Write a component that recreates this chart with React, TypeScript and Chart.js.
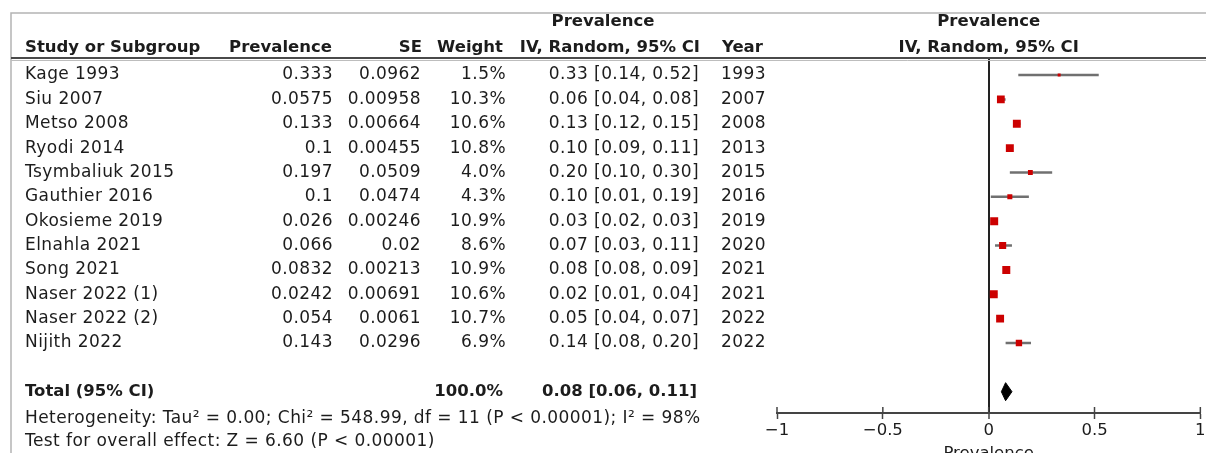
import React, { useEffect, useRef } from 'react';
import { Chart, registerables } from 'chart.js';

Chart.register(...registerables);

// ---------------- data ----------------
const studies = [
  'Kage 1993',
  'Siu 2007',
  'Metso 2008',
  'Ryodi 2014',
  'Tsymbaliuk 2015',
  'Gauthier 2016',
  'Okosieme 2019',
  'Elnahla 2021',
  'Song 2021',
  'Naser 2022 (1)',
  'Naser 2022 (2)',
  'Nijith 2022',
];
const prevalence = [0.333, 0.0575, 0.133, 0.1, 0.197, 0.1, 0.026, 0.066, 0.0832, 0.0242, 0.054, 0.143];
const standardErrors = [0.0962, 0.00958, 0.00664, 0.00455, 0.0509, 0.0474, 0.00246, 0.02, 0.00213, 0.00691, 0.0061, 0.0296];
const weights = [1.5, 10.3, 10.6, 10.8, 4.0, 4.3, 10.9, 8.6, 10.9, 10.6, 10.7, 6.9];
const estimates = [0.33, 0.06, 0.13, 0.1, 0.2, 0.1, 0.03, 0.07, 0.08, 0.02, 0.05, 0.14];
const ciLower = [0.14, 0.04, 0.12, 0.09, 0.1, 0.01, 0.02, 0.03, 0.08, 0.01, 0.04, 0.08];
const ciUpper = [0.52, 0.08, 0.15, 0.11, 0.3, 0.19, 0.03, 0.11, 0.09, 0.04, 0.07, 0.2];
const years = [1993, 2007, 2008, 2013, 2015, 2016, 2019, 2020, 2021, 2021, 2022, 2022];

const totalWeight = 100.0;
const totalEstimate = 0.08;
const totalLower = 0.06;
const totalUpper = 0.11;

const xTickValues = [-1, -0.5, 0, 0.5, 1];
const axisTitle = 'Prevalence';
const heterogeneityText = 'Heterogeneity: Tau\u00B2 = 0.00; Chi\u00B2 = 548.99, df = 11 (P < 0.00001); I\u00B2 = 98%';
const overallEffectText = 'Test for overall effect: Z = 6.60 (P < 0.00001)';

// ---------------- styling ----------------
const FONT_FAMILY = '"DejaVu Sans", sans-serif';
const BOLD_SIZE = 16.5;
const REGULAR_SIZE = 17;
const REGULAR_SPACING = '0.43px';
const TEXT_COLOR = '#1c1c1c';
const TOTAL_ROW = 13;
const W = 1206;
const H = 453;

const fmt2 = (v: number) => v.toFixed(2);
const ciText = (e: number, l: number, u: number) => `${fmt2(e)} [${fmt2(l)}, ${fmt2(u)}]`;
const markerSide = (w: number) => 8 * Math.sqrt(w / 10.9);

const tablePlugin = {
  id: 'forestTable',
  afterDraw(chart: any) {
    const ctx = chart.ctx as CanvasRenderingContext2D;
    const ys = chart.scales.y;
    const xs = chart.scales.x;
    ctx.save();

    // frame lines
    ctx.strokeStyle = '#b4b4b4';
    ctx.lineWidth = 1.5;
    ctx.beginPath();
    ctx.moveTo(11, H);
    ctx.lineTo(11, 13);
    ctx.lineTo(W, 13);
    ctx.stroke();

    // header rule (double)
    ctx.strokeStyle = '#4a4a4a';
    ctx.lineWidth = 2;
    ctx.beginPath();
    ctx.moveTo(11, 58);
    ctx.lineTo(W, 58);
    ctx.stroke();
    ctx.strokeStyle = '#bdbdbd';
    ctx.lineWidth = 1;
    ctx.beginPath();
    ctx.moveTo(11, 60.5);
    ctx.lineTo(W, 60.5);
    ctx.stroke();

    // tick marks above axis line
    ctx.strokeStyle = '#444';
    ctx.lineWidth = 1.5;
    const axisY = xs.top;
    xTickValues.forEach((v) => {
      const px = xs.getPixelForValue(v);
      ctx.beginPath();
      ctx.moveTo(px, axisY - 6);
      ctx.lineTo(px, axisY);
      ctx.stroke();
    });

    const text = (s: string, x: number, y: number, align: CanvasTextAlign, bold = false) => {
      ctx.font = bold
        ? `bold ${BOLD_SIZE}px ${FONT_FAMILY}`
        : `${REGULAR_SIZE}px ${FONT_FAMILY}`;
      (ctx as any).letterSpacing = bold ? '0px' : REGULAR_SPACING;
      ctx.fillStyle = TEXT_COLOR;
      ctx.textAlign = align;
      ctx.textBaseline = 'middle';
      ctx.fillText(s, x, y);
    };

    // headers
    const h1 = 22;
    const h2 = 48;
    text('Prevalence', 603, h1, 'center', true);
    text('Study or Subgroup', 25, h2, 'left', true);
    text('Prevalence', 332, h2, 'right', true);
    text('SE', 422, h2, 'right', true);
    text('Weight', 503, h2, 'right', true);
    text('IV, Random, 95% CI', 700, h2, 'right', true);
    text('Year', 722, h2, 'left', true);
    const plotCenter = (xs.left + xs.right) / 2;
    text('Prevalence', plotCenter, h1, 'center', true);
    text('IV, Random, 95% CI', plotCenter, h2, 'center', true);

    // study rows
    studies.forEach((s, i) => {
      const py = ys.getPixelForValue(i);
      text(s, 25, py, 'left');
      text(String(prevalence[i]), 333, py, 'right');
      text(String(standardErrors[i]), 421, py, 'right');
      text(`${weights[i].toFixed(1)}%`, 506, py, 'right');
      text(ciText(estimates[i], ciLower[i], ciUpper[i]), 699, py, 'right');
      text(String(years[i]), 721, py, 'left');
    });

    // total row
    const ty = ys.getPixelForValue(TOTAL_ROW);
    text('Total (95% CI)', 25, ty, 'left', true);
    text(`${totalWeight.toFixed(1)}%`, 503, ty, 'right', true);
    text(ciText(totalEstimate, totalLower, totalUpper), 697, ty, 'right', true);

    // footer
    text(heterogeneityText, 25, 419, 'left');
    text(overallEffectText, 25, 442, 'left');

    (ctx as any).letterSpacing = '0px';
    ctx.restore();
  },
};

export default function App() {
  const canvasRef = useRef<HTMLCanvasElement | null>(null);

  useEffect(() => {
    if (!canvasRef.current) return;
    Chart.defaults.font.family = FONT_FAMILY;

    const ciDatasets = studies.map((s, i) => ({
      type: 'line' as const,
      label: `${s} CI`,
      data: [
        { x: ciLower[i], y: i },
        { x: ciUpper[i], y: i },
      ],
      borderColor: '#707070',
      borderWidth: 2.5,
      pointRadius: 0,
      pointHoverRadius: 0,
      fill: false,
      order: 3,
    }));

    const halfDiamond = 0.37;
    const chart = new Chart(canvasRef.current, {
      type: 'scatter',
      data: {
        datasets: [
          ...ciDatasets,
          {
            type: 'scatter' as const,
            label: 'Prevalence',
            data: prevalence.map((p, i) => ({ x: p, y: i })),
            pointStyle: 'rect',
            pointRadius: (c: any) => markerSide(weights[c.dataIndex]) / Math.SQRT2,
            pointHoverRadius: (c: any) => markerSide(weights[c.dataIndex]) / Math.SQRT2,
            backgroundColor: '#cc0000',
            borderColor: '#cc0000',
            borderWidth: 0,
            order: 1,
          },
          {
            type: 'line' as const,
            label: 'Total',
            data: [
              { x: totalLower, y: TOTAL_ROW },
              { x: totalEstimate, y: TOTAL_ROW - halfDiamond },
              { x: totalUpper, y: TOTAL_ROW },
              { x: totalEstimate, y: TOTAL_ROW + halfDiamond },
              { x: totalLower, y: TOTAL_ROW },
            ],
            borderColor: '#000',
            backgroundColor: '#000',
            borderWidth: 1,
            pointRadius: 0,
            pointHoverRadius: 0,
            tension: 0,
            fill: 'shape',
            order: 0,
          },
        ] as any,
      },
      options: {
        animation: false,
        responsive: false,
        maintainAspectRatio: false,
        events: [],
        layout: { padding: { left: 777, right: 1, top: 58, bottom: 0 } },
        plugins: {
          legend: { display: false },
          tooltip: { enabled: false },
          title: { display: false },
        },
        scales: {
          x: {
            type: 'linear',
            position: 'bottom',
            min: -1,
            max: 1,
            afterBuildTicks: (scale: any) => {
              scale.ticks = xTickValues.map((v) => ({ value: v }));
            },
            afterFit: (scale: any) => {
              scale.height = 40;
              scale.paddingLeft = 0;
              scale.paddingRight = 0;
            },
            ticks: {
              autoSkip: false,
              maxRotation: 0,
              padding: 2,
              color: TEXT_COLOR,
              font: { size: BOLD_SIZE, family: FONT_FAMILY },
              callback: (v: any) => {
                const n = Number(v);
                return n < 0 ? `\u2212${Math.abs(n)}` : String(n);
              },
            },
            grid: {
              drawOnChartArea: true,
              drawTicks: true,
              tickLength: 6,
              tickColor: '#444',
              tickWidth: 1.5,
              color: (c: any) => (c.tick && c.tick.value === 0 ? '#222' : 'rgba(0,0,0,0)'),
              lineWidth: (c: any) => (c.tick && c.tick.value === 0 ? 2 : 1),
            },
            border: { display: true, color: '#444', width: 2 },
            title: {
              display: true,
              text: axisTitle,
              color: TEXT_COLOR,
              font: { size: BOLD_SIZE, family: FONT_FAMILY },
              padding: { top: 0, bottom: -11 },
            },
          },
          y: {
            type: 'linear',
            display: false,
            reverse: true,
            min: -0.7,
            max: 13.875,
          },
        },
      } as any,
      plugins: [tablePlugin],
    });

    return () => chart.destroy();
  }, []);

  return (
    <div style={{ position: 'fixed', left: 0, top: 0, width: W, height: H, background: '#fff' }}>
      <canvas ref={canvasRef} width={W} height={H} style={{ width: W, height: H, display: 'block' }} />
    </div>
  );
}
